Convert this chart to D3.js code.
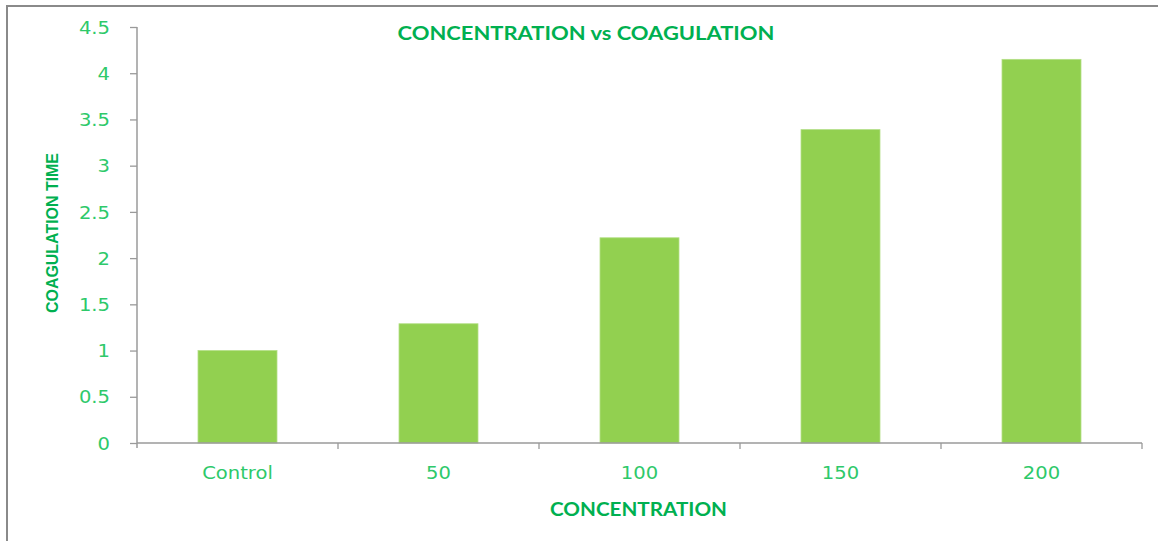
<!DOCTYPE html>
<html>
<head>
<meta charset="utf-8">
<script src="https://cdn.jsdelivr.net/npm/d3@7"></script>
<style>
  html, body { margin: 0; padding: 0; background: #fff; }
  svg { display: block; }
</style>
</head>
<body>
<svg id="chart" width="1158" height="541"></svg>
<script>
// Coagulation time measured at each concentration
const categories = ["Control", "50", "100", "150", "200"];
const coagulationTime = [1.0, 1.29, 2.22, 3.39, 4.15];
const yTicks = [0, 0.5, 1, 1.5, 2, 2.5, 3, 3.5, 4, 4.5];

const titleText = "CONCENTRATION vs COAGULATION";
const xTitleText = "CONCENTRATION";
const yTitleText = "COAGULATION TIME";

const W = 1158, H = 541;
const plot = { left: 137, right: 1142, top: 27, bottom: 443 };
const barFraction = 0.393;
const stretch = 1.15;

const tickGreen = "#2ec96a";
const titleGreen = "#00b050";
const barGreen = "#92d050";
const axisGrey = "#9a9a9a";

const svg = d3.select("#chart");

// outer frame (open on the right and bottom)
svg.append("path")
  .attr("d", `M7,${H + 5} V6 H${W + 5}`)
  .attr("fill", "none")
  .attr("stroke", "#8a8a8a")
  .attr("stroke-width", 2);

const x = d3.scaleBand().domain(categories).range([plot.left, plot.right]).padding(0);
const y = d3.scaleLinear().domain([0, 4.5]).range([plot.bottom, plot.top]);

// widen text horizontally like the original rendering
function widen(sel, factor) {
  sel.each(function () {
    const len = this.getComputedTextLength();
    d3.select(this).attr("textLength", len * factor).attr("lengthAdjust", "spacingAndGlyphs");
  });
}

// bars
svg.append("g").selectAll("rect")
  .data(categories.map((c, i) => ({ c, v: coagulationTime[i] })))
  .join("rect")
  .attr("x", d => x(d.c) + x.bandwidth() * (1 - barFraction) / 2)
  .attr("width", x.bandwidth() * barFraction)
  .attr("y", d => y(d.v))
  .attr("height", d => y(0) - y(d.v))
  .attr("fill", barGreen)
  .attr("stroke", "#b3df86")
  .attr("stroke-width", 0.8);

// y axis
const yAxis = svg.append("g")
  .attr("transform", `translate(${plot.left},0)`)
  .call(d3.axisLeft(y).tickValues(yTicks).tickFormat(d3.format("~g")).tickSizeOuter(0).tickSize(7).tickPadding(17));
yAxis.select(".domain").attr("stroke", axisGrey).attr("stroke-width", 1.5)
  .attr("d", `M0,${plot.top} V${plot.bottom + 5}`);
yAxis.selectAll(".tick line").attr("stroke", axisGrey).attr("stroke-width", 1.3);
yAxis.selectAll(".tick text")
  .attr("fill", tickGreen)
  .style("font-family", "'DejaVu Sans', Verdana, sans-serif")
  .style("font-size", "17px")
  .attr("dy", "0.36em")
  .attr("dx", "-3")
  .call(widen, stretch);

// x axis: ticks at category boundaries, labels centred under bars
const xAxisG = svg.append("g").attr("transform", `translate(0,${plot.bottom})`);
xAxisG.append("line")
  .attr("x1", plot.left).attr("x2", plot.right)
  .attr("stroke", axisGrey).attr("stroke-width", 1.5);
const boundaries = categories.map(c => x(c) + x.bandwidth());
xAxisG.selectAll("line.tick")
  .data(boundaries)
  .join("line")
  .attr("class", "tick")
  .attr("x1", d => d).attr("x2", d => d)
  .attr("y1", 0).attr("y2", 6)
  .attr("stroke", axisGrey).attr("stroke-width", 1.3);
xAxisG.selectAll("text")
  .data(categories)
  .join("text")
  .attr("x", d => x(d) + x.bandwidth() / 2)
  .attr("y", 36)
  .attr("text-anchor", "middle")
  .attr("fill", tickGreen)
  .style("font-family", "'DejaVu Sans', Verdana, sans-serif")
  .style("font-size", "17px")
  .text(d => d)
  .call(widen, stretch);

// titles
svg.append("text")
  .attr("x", 586).attr("y", 40)
  .attr("text-anchor", "middle")
  .attr("fill", titleGreen)
  .style("font-family", "Lato, 'Open Sans', sans-serif")
  .style("font-weight", "bold")
  .style("font-size", "18.5px")
  .text(titleText)
  .attr("textLength", 377).attr("lengthAdjust", "spacingAndGlyphs");

svg.append("text")
  .attr("x", 638.5).attr("y", 516)
  .attr("text-anchor", "middle")
  .attr("fill", titleGreen)
  .style("font-family", "Lato, 'Open Sans', sans-serif")
  .style("font-weight", "bold")
  .style("font-size", "18px")
  .text(xTitleText)
  .attr("textLength", 177).attr("lengthAdjust", "spacingAndGlyphs");

svg.append("text")
  .attr("transform", `translate(58,233) rotate(-90)`)
  .attr("text-anchor", "middle")
  .attr("fill", titleGreen)
  .style("font-family", "'Liberation Sans Narrow', 'Arial Narrow', sans-serif")
  .style("font-weight", "bold")
  .style("font-size", "17px")
  .text(yTitleText)
  .attr("textLength", 160).attr("lengthAdjust", "spacingAndGlyphs");
</script>
</body>
</html>
